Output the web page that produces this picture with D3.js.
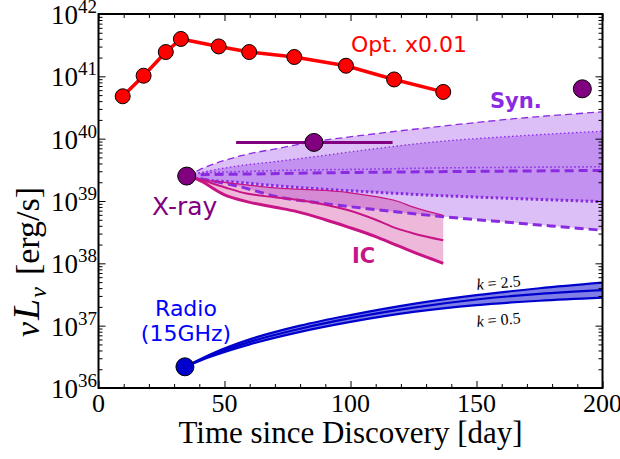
<!DOCTYPE html>
<html>
<head>
<meta charset="utf-8">
<script src="https://cdn.jsdelivr.net/npm/d3@7"></script>
<style>
  html, body { margin: 0; padding: 0; background: #fff; }
  svg { display: block; }
</style>
</head>
<body>
<div id="chart"></div>
<script>
// values are log10(nu L_nu), days since discovery

// optical (scaled x0.01)
const optDays = [9.6, 17.9, 26.7, 32.7, 47.7, 59.8, 77.7, 98.2, 117.3, 136.8];
const optLog  = [40.68, 41.01, 41.39, 41.60, 41.48, 41.39, 41.31, 41.17, 40.95, 40.75];

// X-ray detections
const xrayDays = [35.0, 85.5, 192.0];
const xrayLog  = [39.40, 39.94, 40.80];
const xrayErr  = [54.6, 116.7]; // horizontal bar of 2nd point

// radio 15 GHz
const radioDay = 34.3, radioLog = 36.34;

// synchrotron model curves
const synDays      = [35, 40, 55, 72, 85.5, 106, 134, 165, 200];
const synOuterHi   = [39.40, 39.50, 39.71, 39.85, 39.95, 40.06, 40.19, 40.32, 40.43];
const synInnerHi   = [39.40, 39.45, 39.56, 39.64, 39.71, 39.82, 39.95, 40.04, 40.12];
const synMidDot    = [39.40, 39.45, 39.47, 39.49, 39.50, 39.51, 39.53, 39.54, 39.55];
const synMidDash   = [39.40, 39.42, 39.43, 39.44, 39.45, 39.46, 39.47, 39.48, 39.49];
const synInnerLo   = [39.40, 39.35, 39.30, 39.24, 39.20, 39.15, 39.09, 39.04, 38.99];
const synOuterLo   = [39.40, 39.36, 39.24, 39.06, 38.98, 38.88, 38.76, 38.65, 38.53];

// inverse Compton model curves
const icDays = [35, 39, 50, 58.8, 70, 78.7, 90, 98.5, 110, 118.3, 125, 136.8];
const icHi   = [39.40, 39.36, 39.30, 39.26, 39.21, 39.19, 39.17, 39.14, 39.07, 39.00, 38.90, 38.77];
const icMid  = [39.40, 39.36, 39.22, 39.12, 39.06, 39.02, 38.94, 38.86, 38.70, 38.56, 38.48, 38.37];
const icLo   = [39.40, 39.35, 39.10, 38.99, 38.90, 38.83, 38.70, 38.59, 38.43, 38.29, 38.18, 38.00];

// radio model curves (k = 2.5 upper, k = 0.5 lower)
const radDays = [34.3, 45, 60, 80, 100, 125, 150, 175, 200];
const radHi   = [36.34, 36.55, 36.78, 37.00, 37.17, 37.35, 37.49, 37.60, 37.69];
const radMid  = [36.34, 36.53, 36.74, 36.95, 37.12, 37.29, 37.42, 37.51, 37.57];
const radLo   = [36.34, 36.51, 36.70, 36.90, 37.06, 37.22, 37.33, 37.40, 37.45];

const xTicks = [0, 50, 100, 150, 200];
const yDecades = [36, 37, 38, 39, 40, 41, 42];

const W = 620, H = 459;
const svg = d3.select('#chart').append('svg').attr('width', W).attr('height', H);

const x = d3.scaleLinear().domain([0, 200]).range([98.5, 602.5]);
const y = d3.scaleLog().domain([1e36, 1e42]).range([388, 14]);
const Y = v => y(Math.pow(10, v));

const serif = '"Liberation Serif", "Times New Roman", serif';
const sans = '"DejaVu Sans", Verdana, sans-serif';

const plot = svg.append('g');
const zip = (a, b) => a.map((d, i) => [d, b[i]]);

const line = d3.line().x(d => x(d[0])).y(d => Y(d[1])).curve(d3.curveMonotoneX);
const band = d3.area().x(d => x(d[0])).y0(d => Y(d[1])).y1(d => Y(d[2])).curve(d3.curveMonotoneX);

// ── Synchrotron fills ──────────────────────────────
plot.append('path')
  .attr('d', band(synDays.map((d, i) => [d, synOuterLo[i], synOuterHi[i]])))
  .attr('fill', '#8a2be2').attr('fill-opacity', 0.3);
plot.append('path')
  .attr('d', band(synDays.map((d, i) => [d, synInnerLo[i], synInnerHi[i]])))
  .attr('fill', '#8a2be2').attr('fill-opacity', 0.3);

// ── IC fill ────────────────────────────────────────
plot.append('path')
  .attr('d', band(icDays.map((d, i) => [d, icLo[i], icHi[i]])))
  .attr('fill', '#c71585').attr('fill-opacity', 0.3);

// ── Radio fill ─────────────────────────────────────
plot.append('path')
  .attr('d', band(radDays.map((d, i) => [d, radLo[i], radHi[i]])))
  .attr('fill', '#0000cd').attr('fill-opacity', 0.5);

// ── Synchrotron lines ──────────────────────────────
const synLines = [
  { v: synOuterHi, w: 1.3, dash: '7,4' },
  { v: synInnerHi, w: 1.3, dash: '1.5,2.5' },
  { v: synMidDot,  w: 1.6, dash: '1.5,2.5' },
  { v: synMidDash, w: 3,   dash: '9,5' },
  { v: synInnerLo, w: 3,   dash: '2.5,2.5' },
  { v: synOuterLo, w: 3,   dash: '9,5' }
];
synLines.forEach(s => {
  plot.append('path')
    .attr('d', line(zip(synDays, s.v)))
    .attr('fill', 'none').attr('stroke', '#8a2be2')
    .attr('stroke-width', s.w).attr('stroke-dasharray', s.dash);
});

// ── IC lines ───────────────────────────────────────
[[icHi, 1.3], [icMid, 2], [icLo, 3]].forEach(([v, w]) => {
  plot.append('path')
    .attr('d', line(zip(icDays, v)))
    .attr('fill', 'none').attr('stroke', '#c71585').attr('stroke-width', w);
});

// ── Radio lines ────────────────────────────────────
[radHi, radMid, radLo].forEach(v => {
  plot.append('path')
    .attr('d', line(zip(radDays, v)))
    .attr('fill', 'none').attr('stroke', '#0000cd').attr('stroke-width', 2.2);
});

// ── Optical ────────────────────────────────────────
const optData = zip(optDays, optLog);
plot.append('path')
  .attr('d', d3.line().x(d => x(d[0])).y(d => Y(d[1]))(optData))
  .attr('fill', 'none').attr('stroke', '#ff0000').attr('stroke-width', 3.5);
plot.selectAll('.opt').data(optData).join('circle')
  .attr('cx', d => x(d[0])).attr('cy', d => Y(d[1])).attr('r', 7.5)
  .attr('fill', '#ff0000').attr('stroke', '#000').attr('stroke-width', 1);

// ── X-ray ──────────────────────────────────────────
plot.append('line')
  .attr('x1', x(xrayErr[0])).attr('x2', x(xrayErr[1]))
  .attr('y1', Y(xrayLog[1])).attr('y2', Y(xrayLog[1]))
  .attr('stroke', '#800080').attr('stroke-width', 3);
plot.selectAll('.xray').data(zip(xrayDays, xrayLog)).join('circle')
  .attr('cx', d => x(d[0])).attr('cy', d => Y(d[1])).attr('r', 9)
  .attr('fill', '#800080').attr('stroke', '#000').attr('stroke-width', 1);

// ── Radio point ────────────────────────────────────
plot.append('circle')
  .attr('cx', x(radioDay)).attr('cy', Y(radioLog)).attr('r', 9)
  .attr('fill', '#0000cd').attr('stroke', '#000').attr('stroke-width', 1);

// ── Labels ─────────────────────────────────────────
const label = (tx, px, py, fill, size, weight, anchor) =>
  svg.append('text').attr('x', px).attr('y', py).attr('fill', fill)
    .attr('font-family', sans).attr('font-size', size)
    .attr('font-weight', weight || 'normal').attr('text-anchor', anchor || 'start')
    .text(tx);

label('Opt. x0.01', 351, 52, '#ff0000', 22);
label('Syn.', 490, 108, '#8a2be2', 21, 'bold');
label('X-ray', 152, 215, '#800080', 25);
label('IC', 352, 263, '#c71585', 21, 'bold');
label('Radio', 186, 316, '#0000ff', 22, 'normal', 'middle');
label('(15GHz)', 186, 341, '#0000ff', 22, 'normal', 'middle');

[['2.5', 477, 290], ['0.5', 477, 327]].forEach(([k, px, py]) => {
  const t = svg.append('text')
    .attr('transform', `translate(${px},${py}) rotate(-5)`)
    .attr('font-family', serif).attr('font-size', 16).attr('fill', '#000');
  t.append('tspan').attr('font-style', 'italic').text('k');
  t.append('tspan').text(' = ' + k);
});

// ── Axes ───────────────────────────────────────────
const yMinor = [];
for (let e = 36; e < 42; e++) for (let m = 2; m <= 9; m++) yMinor.push(m * Math.pow(10, e));
const xMinor = d3.range(10, 200, 10).filter(d => d % 50 !== 0);
const yMajor = yDecades.map(e => Math.pow(10, e));

const axisG = svg.append('g');
const addAxis = (gen, tx, ty) => {
  const g = axisG.append('g').attr('transform', `translate(${tx},${ty})`).call(gen);
  g.select('.domain').remove();
  g.selectAll('line').attr('stroke', '#000').attr('stroke-width', 1);
  return g;
};

// major / minor ticks pointing inward on all four sides
addAxis(d3.axisBottom(x).tickValues(xTicks).tickSize(-7).tickFormat(''), 0, 388);
addAxis(d3.axisBottom(x).tickValues(xMinor).tickSize(-4).tickFormat(''), 0, 388);
addAxis(d3.axisTop(x).tickValues(xTicks).tickSize(-7).tickFormat(''), 0, 14);
addAxis(d3.axisTop(x).tickValues(xMinor).tickSize(-4).tickFormat(''), 0, 14);
addAxis(d3.axisLeft(y).tickValues(yMajor).tickSize(-7).tickFormat(''), 98.5, 0);
addAxis(d3.axisLeft(y).tickValues(yMinor).tickSize(-4).tickFormat(''), 98.5, 0);
addAxis(d3.axisRight(y).tickValues(yMajor).tickSize(-7).tickFormat(''), 602.5, 0);
addAxis(d3.axisRight(y).tickValues(yMinor).tickSize(-4).tickFormat(''), 602.5, 0);

// frame
svg.append('rect')
  .attr('x', 98.5).attr('y', 14).attr('width', 602.5 - 98.5).attr('height', 388 - 14)
  .attr('fill', 'none').attr('stroke', '#000').attr('stroke-width', 2);

// x tick labels
svg.selectAll('.xtl').data(xTicks).join('text')
  .attr('x', d => x(d)).attr('y', 412)
  .attr('text-anchor', 'middle')
  .attr('font-family', serif).attr('font-size', 26).attr('fill', '#000')
  .text(d => d);

// y tick labels 10^n
yDecades.forEach(e => {
  const t = svg.append('text')
    .attr('x', 97).attr('y', Y(e) + 10)
    .attr('text-anchor', 'end')
    .attr('font-family', serif).attr('fill', '#000');
  t.append('tspan').attr('font-size', 27).text('10');
  t.append('tspan').attr('font-size', 19).attr('dy', -11).text(e);
});

// axis titles
svg.append('text')
  .attr('x', (98.5 + 602.5) / 2).attr('y', 443)
  .attr('text-anchor', 'middle')
  .attr('font-family', serif).attr('font-size', 31).attr('fill', '#000')
  .text('Time since Discovery [day]');

const yl = svg.append('text')
  .attr('transform', 'translate(39,337) rotate(-90)')
  .attr('text-anchor', 'start')
  .attr('font-family', serif).attr('font-size', 34).attr('fill', '#000');
yl.append('tspan').attr('font-style', 'italic').text('ν');
yl.append('tspan').attr('font-style', 'italic').attr('font-size', 38).attr('dx', 2).text('L');
yl.append('tspan').attr('font-style', 'italic').attr('font-size', 24).attr('dx', 1).attr('dy', 7).text('ν');
yl.append('tspan').attr('dy', -7).attr('dx', 12).text('[erg/s]');
</script>
</body>
</html>
